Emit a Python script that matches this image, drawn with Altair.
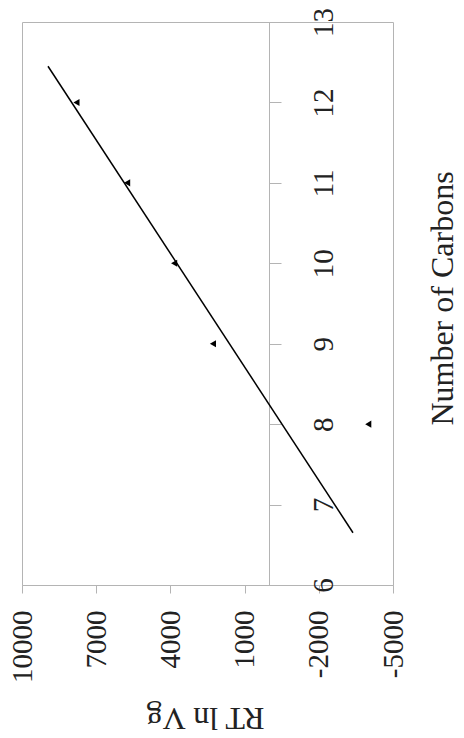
import altair as alt
import pandas as pd

# Data read from the (rotated) reference chart
carbons = [8, 9, 10, 11, 12]
rt_ln_vg = [-4000, 2280, 3850, 5750, 7800]
trend_carbons = [6.65, 12.45]
trend_rt_ln_vg = [-3383, 8949]
value_ticks = [10000, 7000, 4000, 1000, -2000, -5000]
carbon_ticks = [6, 7, 8, 9, 10, 11, 12, 13]

pts = pd.DataFrame({"carbons": carbons, "rt": rt_ln_vg})
trend = pd.DataFrame({"carbons": trend_carbons, "rt": trend_rt_ln_vg})

FONT = "Liberation Serif"
GRAY = "#b4b4b4"

x_enc = alt.X(
    "rt:Q",
    scale=alt.Scale(domain=[-5000, 10000], reverse=True, nice=False, zero=False),
    axis=alt.Axis(
        orient="bottom",
        values=value_ticks,
        labelAngle=270,
        labelAlign="right",
        labelBaseline="middle",
        labelPadding=17,
        tickSize=8,
        labelExpr="'' + datum.value",
        labelFlush=False,
        labelOverlap=False,
        grid=False,
        title="RT ln Vg",
        titleAngle=180,
        titleAlign="center",
        titleBaseline="alphabetic",
        titleX=183,
        titleY=122,
    ),
)

y_enc = alt.Y(
    "carbons:Q",
    scale=alt.Scale(domain=[6, 13], nice=False, zero=False),
    axis=alt.Axis(
        orient="right",
        offset=-124,
        values=carbon_ticks,
        labelAngle=270,
        labelAlign="center",
        labelBaseline="alphabetic",
        labelPadding=51,
        tickSize=12,
        labelFlush=False,
        labelOverlap=False,
        grid=False,
        title="Number of Carbons",
        titleAngle=270,
        titleAlign="center",
        titleBaseline="alphabetic",
        titleX=183,
        titleY=276,
    ),
)

line = alt.Chart(trend).mark_line(color="black", strokeWidth=1.5).encode(
    x=x_enc, y=y_enc
)

points = alt.Chart(pts).mark_point(
    shape="triangle-left", filled=True, color="black", size=50, opacity=1
).encode(x=x_enc, y=y_enc)

chart = (
    alt.layer(line, points)
    .properties(
        width=371,
        height=563,
        autosize=alt.AutoSizeParams(type="none"),
        padding={"left": 14, "top": 14, "right": 63, "bottom": 145},
        background="white",
    )
    .configure_view(stroke=GRAY, strokeWidth=1)
    .configure_axis(
        domainColor=GRAY,
        tickColor=GRAY,
        domainWidth=1,
        tickWidth=1,
        labelColor="#222222",
        titleColor="#222222",
        labelFont=FONT,
        titleFont=FONT,
        labelFontSize=29,
        titleFontSize=32,
        titleFontWeight="normal",
    )
)

chart.save("out.html", embed_options={"renderer": "svg", "actions": False})
